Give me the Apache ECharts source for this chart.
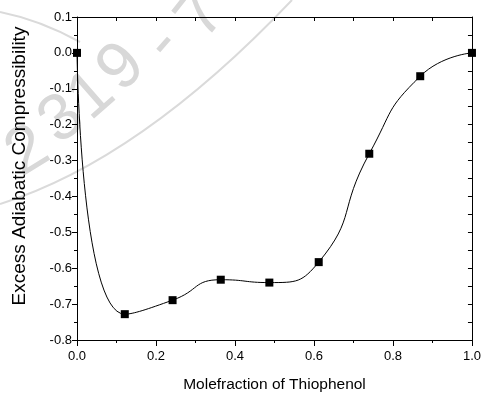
<!DOCTYPE html>
<html><head><meta charset="utf-8">
<script src="https://cdn.jsdelivr.net/npm/echarts@6/dist/echarts.min.js"></script>
<style>html,body{margin:0;padding:0;background:#fff}#c{width:484px;height:398px}</style>
</head><body><div id="c"></div>
<script>
var xValues = [0.0, 0.121, 0.242, 0.364, 0.487, 0.612, 0.740, 0.869, 1.0];
var yValues = [0.0, -0.728, -0.689, -0.632, -0.640, -0.583, -0.281, -0.065, 0.0];
var xTitle = 'Molefraction of Thiophenol';
var yTitle = 'Excess Adiabatic Compressibility';
var watermarkChars = ['2', '3', '1', '9', '-', '7'];

var FONT = '"Liberation Sans", Arial, sans-serif';
var chart = echarts.init(document.getElementById('c'), null, {renderer: 'canvas'});
var data = xValues.map(function (x, i) { return [x, yValues[i]]; });

var wmPos = [[28, 152, 0.55], [62, 120, 0.65], [92, 96, 0.72], [122, 68, 0.78], [163, 44, 0.85], [202, 16, 0.9]];
var graphics = [
  {type: 'bezierCurve', silent: true, z: -10,
   shape: {x1: 0, y1: 204, x2: 292, y2: 0, cpx1: 140, cpy1: 160},
   style: {stroke: '#dadada', lineWidth: 2, fill: null}},
  {type: 'bezierCurve', silent: true, z: -10,
   shape: {x1: 0, y1: 12, x2: 80, y2: 42, cpx1: 40, cpy1: 20},
   style: {stroke: '#dadada', lineWidth: 2, fill: null}},
  {type: 'text', silent: true, x: 20, y: 166, rotation: Math.PI / 2,
   style: {text: yTitle, fill: '#000', font: '19px ' + FONT,
     textAlign: 'center', textVerticalAlign: 'middle'}}
];
watermarkChars.forEach(function (ch, i) {
  graphics.push({type: 'text', silent: true, z: -10, x: wmPos[i][0], y: wmPos[i][1],
    rotation: wmPos[i][2],
    style: {text: ch, fill: '#d8d8d8', font: '66px "Liberation Sans", Arial, sans-serif',
      textAlign: 'center', textVerticalAlign: 'middle'}});
});

chart.setOption({
  animation: false,
  backgroundColor: '#fff',
  graphic: graphics,
  grid: {left: 77, right: 8, top: 17, bottom: 54, containLabel: false},
  xAxis: [{
    type: 'value', min: 0, max: 1, interval: 0.2, position: 'bottom',
    name: xTitle, nameLocation: 'middle', nameGap: 37,
    nameTextStyle: {color: '#000', fontFamily: FONT, fontSize: 15.5},
    axisLine: {show: true, onZero: false, lineStyle: {color: '#000', width: 1}},
    axisTick: {show: true, inside: false, length: 6, lineStyle: {color: '#000'}},
    minorTick: {show: true, splitNumber: 2, length: 3, lineStyle: {color: '#000'}},
    splitLine: {show: false},
    axisLabel: {color: '#000', fontFamily: FONT, fontSize: 13, margin: 10,
      formatter: function (v) { return v.toFixed(1); }}
  }, {
    type: 'value', min: 0, max: 1, interval: 0.1, position: 'top',
    axisLine: {show: true, onZero: false, lineStyle: {color: '#000', width: 1}},
    axisTick: {show: true, inside: true, length: 4, lineStyle: {color: '#000'}},
    axisLabel: {show: false}, splitLine: {show: false}
  }],
  yAxis: [{
    type: 'value', min: -0.8, max: 0.1, interval: 0.1, position: 'left',
    axisLine: {show: true, onZero: false, lineStyle: {color: '#000', width: 1}},
    axisTick: {show: true, inside: false, length: 5, lineStyle: {color: '#000'}},
    minorTick: {show: true, splitNumber: 2, length: 3, lineStyle: {color: '#000'}},
    splitLine: {show: false},
    axisLabel: {color: '#000', fontFamily: FONT, fontSize: 13, margin: 5,
      formatter: function (v) { return (Math.abs(v) < 1e-9 ? 0 : v).toFixed(1); }}
  }, {
    type: 'value', min: -0.8, max: 0.1, interval: 0.05, position: 'right',
    axisLine: {show: true, onZero: false, lineStyle: {color: '#000', width: 1}},
    axisTick: {show: true, inside: true, length: 4, lineStyle: {color: '#000'}},
    axisLabel: {show: false}, splitLine: {show: false}
  }],
  series: [{
    type: 'line', data: data, smooth: 0.55, clip: false,
    symbol: 'rect', symbolSize: 8,
    lineStyle: {color: '#000', width: 1},
    itemStyle: {color: '#000'}
  }]
});
</script></body></html>
